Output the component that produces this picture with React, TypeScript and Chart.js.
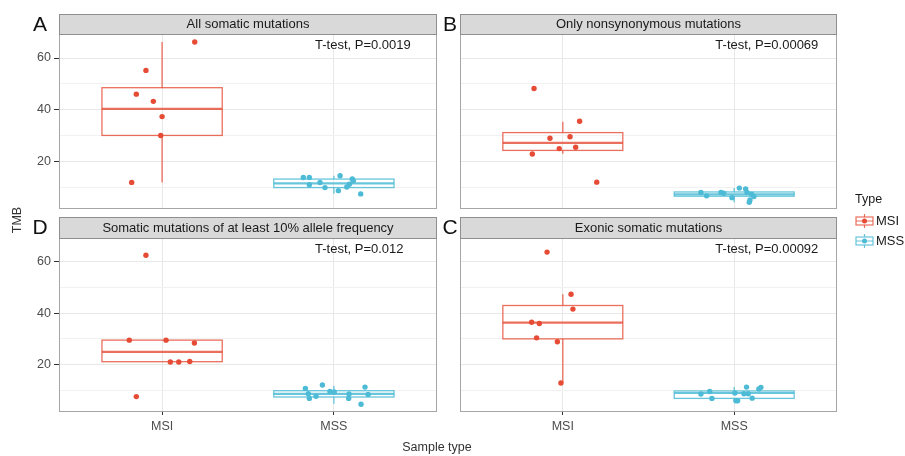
import React, { useEffect, useRef } from "react";
import { Chart, registerables } from "chart.js";

Chart.register(...registerables);

// ---------------- data ----------------
const categories = ["MSI", "MSS"];
const panelTitles = [
  "All somatic mutations",
  "Only nonsynonymous mutations",
  "Somatic mutations of at least 10% allele frequency",
  "Exonic somatic mutations",
];
const panelLetters = ["A", "B", "D", "C"];
const pValueLabels = ["T-test, P=0.0019", "T-test, P=0.00069", "T-test, P=0.012", "T-test, P=0.00092"];
const pLabelAt = [1.89, 65]; // data coordinates (x, y) of the label's left edge
const yMajorTicks = [20, 40, 60];
const yMinorTicks = [10, 30, 50];
const yRange = [1.5, 69.3];
const xRange = [0.4, 2.6];
const legendTitle = "Type";
const yTitle = "TMB";
const xTitle = "Sample type";

// box stats: [lower whisker, Q1, median, Q3, upper whisker]
const boxMsiA = [11.8, 30.0, 40.3, 48.5, 66.2];
const boxMssA = [7.4, 9.8, 11.4, 13.1, 14.4];
const boxMsiB = [22.9, 24.2, 27.1, 31.1, 35.3];
const boxMssB = [4.1, 6.45, 7.2, 8.1, 9.6];
const boxMsiD = [21.1, 21.1, 24.9, 29.5, 29.5];
const boxMssD = [4.7, 7.35, 8.6, 9.8, 11.7];
const boxMsiC = [12.8, 30.0, 36.3, 43.0, 47.4];
const boxMssC = [5.9, 6.8, 8.9, 9.7, 11.2];

// jittered points: values and horizontal jitter (in category units)
const msiA = [66.2, 55.2, 46.0, 43.2, 37.3, 30.0, 11.8];
const msiAJitter = [0.19, -0.094, -0.15, -0.051, 0.0, -0.008, -0.177];
const mssA = [13.7, 13.7, 10.9, 11.75, 9.8, 8.6, 14.4, 10.0, 11.1, 13.1, 12.4, 7.35];
const mssAJitter = [-0.178, -0.143, -0.143, -0.081, -0.052, 0.026, 0.036, 0.075, 0.09, 0.107, 0.113, 0.156];

const msiB = [48.2, 35.5, 28.9, 29.5, 24.9, 25.4, 22.8, 11.9];
const msiBJitter = [-0.168, 0.098, -0.075, 0.042, -0.021, 0.075, -0.178, 0.198];
const mssB = [7.9, 6.6, 7.9, 7.6, 5.9, 9.6, 9.3, 7.9, 7.2, 5.0, 4.1, 6.3];
const mssBJitter = [-0.194, -0.161, -0.077, -0.061, -0.013, 0.03, 0.067, 0.075, 0.102, 0.092, 0.088, 0.115];

const msiD = [62.6, 29.5, 29.5, 28.4, 21.0, 21.0, 21.2, 7.5];
const msiDJitter = [-0.094, -0.191, 0.023, 0.188, 0.048, 0.097, 0.161, -0.15];
const mssD = [10.7, 8.6, 6.8, 7.6, 12.0, 9.5, 9.3, 8.5, 6.8, 4.5, 11.2, 8.3];
const mssDJitter = [-0.166, -0.149, -0.143, -0.104, -0.067, -0.023, 0.002, 0.088, 0.086, 0.158, 0.181, 0.199];

const msiC = [63.8, 47.4, 41.6, 36.5, 36.0, 30.4, 28.9, 12.8];
const msiCJitter = [-0.092, 0.048, 0.059, -0.182, -0.137, -0.153, -0.032, -0.011];
const mssC = [8.5, 9.5, 6.8, 8.9, 5.9, 5.9, 8.6, 11.2, 8.6, 6.9, 10.5, 11.1];
const mssCJitter = [-0.194, -0.143, -0.13, 0.004, 0.01, 0.02, 0.057, 0.072, 0.082, 0.105, 0.144, 0.156];

const panels = [
  { msi: msiA, msiJ: msiAJitter, mss: mssA, mssJ: mssAJitter, boxMsi: boxMsiA, boxMss: boxMssA },
  { msi: msiB, msiJ: msiBJitter, mss: mssB, mssJ: mssBJitter, boxMsi: boxMsiB, boxMss: boxMssB },
  { msi: msiD, msiJ: msiDJitter, mss: mssD, mssJ: mssDJitter, boxMsi: boxMsiD, boxMss: boxMssD },
  { msi: msiC, msiJ: msiCJitter, mss: mssC, mssJ: mssCJitter, boxMsi: boxMsiC, boxMss: boxMssC },
];

// ---------------- layout & style ----------------
const W = 905;
const H = 456;
const FONT = "'Liberation Sans', Arial, sans-serif";
const RED = "#E64B35";
const CYAN = "#4DBBD5";
const RED_BOX = "rgba(230,75,53,0.8)";
const CYAN_BOX = "rgba(77,187,213,0.85)";
const BOX_HALF = 0.35;
const layouts = [
  { left: 59, right: 437, top: 34, bottom: 209, stripTop: 14, letterX: 40, showY: true, showX: false },
  { left: 460, right: 837, top: 34, bottom: 209, stripTop: 14, letterX: 450, showY: false, showX: false },
  { left: 59, right: 437, top: 238, bottom: 412, stripTop: 217, letterX: 40, showY: true, showX: true },
  { left: 460, right: 837, top: 238, bottom: 412, stripTop: 217, letterX: 450, showY: false, showX: true },
];

function drawBox(ctx: CanvasRenderingContext2D, xs: any, ys: any, cat: number, stats: number[], color: string) {
  const [lo, q1, med, q3, hi] = stats;
  const xc = xs.getPixelForValue(cat);
  const xl = xs.getPixelForValue(cat - BOX_HALF);
  const xr = xs.getPixelForValue(cat + BOX_HALF);
  ctx.save();
  ctx.strokeStyle = color;
  ctx.lineWidth = 1.3;
  ctx.beginPath();
  ctx.moveTo(xc, ys.getPixelForValue(hi));
  ctx.lineTo(xc, ys.getPixelForValue(q3));
  ctx.moveTo(xc, ys.getPixelForValue(q1));
  ctx.lineTo(xc, ys.getPixelForValue(lo));
  ctx.stroke();
  ctx.strokeRect(xl, ys.getPixelForValue(q3), xr - xl, ys.getPixelForValue(q1) - ys.getPixelForValue(q3));
  ctx.lineWidth = 2.2;
  ctx.beginPath();
  ctx.moveTo(xl, ys.getPixelForValue(med));
  ctx.lineTo(xr, ys.getPixelForValue(med));
  ctx.stroke();
  ctx.restore();
}

function drawLegendKey(ctx: CanvasRenderingContext2D, x: number, yc: number, color: string, solid: string, label: string) {
  ctx.save();
  ctx.strokeStyle = color;
  ctx.lineWidth = 1.2;
  ctx.strokeRect(x, yc - 4, 17, 8);
  ctx.beginPath();
  ctx.moveTo(x + 8.5, yc - 7);
  ctx.lineTo(x + 8.5, yc - 4);
  ctx.moveTo(x + 8.5, yc + 4);
  ctx.lineTo(x + 8.5, yc + 7);
  ctx.moveTo(x, yc);
  ctx.lineTo(x + 17, yc);
  ctx.stroke();
  ctx.fillStyle = solid;
  ctx.beginPath();
  ctx.arc(x + 8.5, yc, 2.5, 0, Math.PI * 2);
  ctx.fill();
  ctx.fillStyle = "#1A1A1A";
  ctx.font = `13px ${FONT}`;
  ctx.textAlign = "left";
  ctx.textBaseline = "middle";
  ctx.fillText(label, x + 20, yc);
  ctx.restore();
}

function decorPlugin(i: number) {
  const L = layouts[i];
  const P = panels[i];
  return {
    id: "panelDecor" + i,
    beforeDatasetsDraw(chart: any) {
      const { ctx } = chart;
      const xs = chart.scales.x;
      const ys = chart.scales.y;
      drawBox(ctx, xs, ys, 1, P.boxMsi, RED_BOX);
      drawBox(ctx, xs, ys, 2, P.boxMss, CYAN_BOX);
    },
    afterDraw(chart: any) {
      const { ctx, chartArea: a } = chart;
      const xs = chart.scales.x;
      const ys = chart.scales.y;
      ctx.save();
      // panel border
      ctx.strokeStyle = "#A6A6A6";
      ctx.lineWidth = 1;
      ctx.strokeRect(a.left + 0.5, a.top + 0.5, a.right - a.left - 1, a.bottom - a.top - 1);
      // strip
      ctx.fillStyle = "#D9D9D9";
      ctx.fillRect(a.left, L.stripTop, a.right - a.left, a.top - L.stripTop);
      ctx.strokeStyle = "#8F8F8F";
      ctx.strokeRect(a.left + 0.5, L.stripTop + 0.5, a.right - a.left - 1, a.top - L.stripTop);
      const sc = (L.stripTop + a.top) / 2;
      ctx.fillStyle = "#1A1A1A";
      ctx.font = `13px ${FONT}`;
      ctx.textAlign = "center";
      ctx.textBaseline = "middle";
      ctx.fillText(panelTitles[i], (a.left + a.right) / 2, sc + 0.5);
      // panel letter
      ctx.fillStyle = "#111";
      ctx.font = `21px ${FONT}`;
      ctx.fillText(panelLetters[i], L.letterX, sc + 1);
      // p-value label
      ctx.fillStyle = "#1A1A1A";
      ctx.font = `13px ${FONT}`;
      ctx.textAlign = "left";
      ctx.fillText(pValueLabels[i], xs.getPixelForValue(pLabelAt[0]), ys.getPixelForValue(pLabelAt[1]));
      if (i === 2) {
        ctx.fillStyle = "#333";
        ctx.font = `12.5px ${FONT}`;
        ctx.textAlign = "center";
        ctx.fillText(xTitle, 437, 448);
        ctx.save();
        ctx.translate(18, 220);
        ctx.rotate(-Math.PI / 2);
        ctx.fillText(yTitle, 0, 0);
        ctx.restore();
      }
      if (i === 1) {
        ctx.fillStyle = "#1A1A1A";
        ctx.font = `12.5px ${FONT}`;
        ctx.textAlign = "left";
        ctx.fillText(legendTitle, 855, 200);
        drawLegendKey(ctx, 856, 221, RED_BOX, RED, categories[0]);
        drawLegendKey(ctx, 856, 241, CYAN_BOX, CYAN, categories[1]);
      }
      ctx.restore();
    },
  };
}

function buildConfig(i: number): any {
  const L = layouts[i];
  const P = panels[i];
  const yW = L.showY ? 59 : 0;
  const xH = L.showX ? 20 : 0;
  const isMajor = (v: number) => yMajorTicks.includes(v);
  return {
    type: "scatter",
    data: {
      datasets: [
        {
          label: categories[0],
          data: P.msi.map((y, k) => ({ x: 1 + P.msiJ[k], y })),
          backgroundColor: RED,
          borderWidth: 0,
          pointRadius: 2.7,
        },
        {
          label: categories[1],
          data: P.mss.map((y, k) => ({ x: 2 + P.mssJ[k], y })),
          backgroundColor: CYAN,
          borderWidth: 0,
          pointRadius: 2.7,
        },
      ],
    },
    options: {
      responsive: false,
      animation: false,
      events: [],
      layout: {
        padding: { left: L.left - yW, top: L.top, right: W - L.right, bottom: H - L.bottom - xH },
      },
      plugins: { legend: { display: false }, tooltip: { enabled: false }, title: { display: false } },
      scales: {
        x: {
          type: "linear",
          min: xRange[0],
          max: xRange[1],
          afterBuildTicks: (ax: any) => {
            ax.ticks = [1, 2].map((v) => ({ value: v }));
          },
          afterFit: (ax: any) => {
            ax.height = xH;
          },
          border: { display: false },
          grid: { color: "#E8E8E8", lineWidth: 1, drawTicks: L.showX, tickLength: 3, tickColor: "#333" },
          ticks: {
            display: L.showX,
            padding: 4,
            maxRotation: 0,
            autoSkip: false,
            color: "#4D4D4D",
            font: { family: FONT, size: 12.5 },
            callback: (v: number) => categories[Math.round(v) - 1],
          },
        },
        y: {
          type: "linear",
          min: yRange[0],
          max: yRange[1],
          afterBuildTicks: (ax: any) => {
            ax.ticks = [...yMinorTicks, ...yMajorTicks].sort((a, b) => a - b).map((v) => ({ value: v }));
          },
          afterFit: (ax: any) => {
            ax.width = yW;
          },
          border: { display: false },
          grid: {
            color: (c: any) => (c.tick && isMajor(c.tick.value) ? "#E8E8E8" : "#F1F1F1"),
            lineWidth: 1,
            drawTicks: L.showY,
            tickLength: 5,
            tickColor: (c: any) => (c.tick && isMajor(c.tick.value) ? "#333" : "rgba(0,0,0,0)"),
          },
          ticks: {
            display: L.showY,
            padding: 3,
            autoSkip: false,
            color: "#4D4D4D",
            font: { family: FONT, size: 12.5 },
            callback: (v: number) => (isMajor(v) ? String(v) : ""),
          },
        },
      },
    },
    plugins: [decorPlugin(i)],
  };
}

export default function App() {
  const canvases = useRef<(HTMLCanvasElement | null)[]>([]);
  useEffect(() => {
    const charts = layouts.map((_, i) => new Chart(canvases.current[i] as HTMLCanvasElement, buildConfig(i)));
    return () => charts.forEach((c) => c.destroy());
  }, []);
  return (
    <div style={{ position: "absolute", left: 0, top: 0, width: W, height: H, background: "#fff" }}>
      {layouts.map((_, i) => (
        <canvas
          key={i}
          ref={(el) => {
            canvases.current[i] = el;
          }}
          width={W}
          height={H}
          style={{ position: "absolute", left: 0, top: 0, width: W, height: H }}
        />
      ))}
    </div>
  );
}
